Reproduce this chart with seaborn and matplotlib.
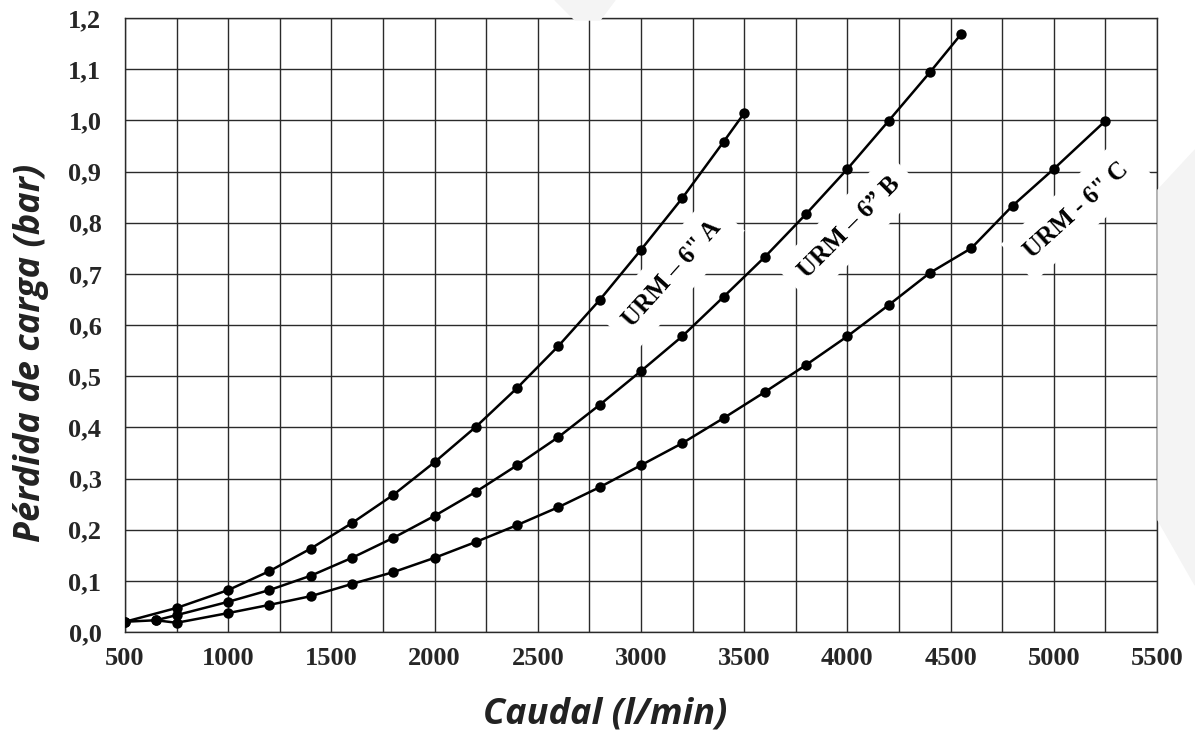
import numpy as np
import pandas as pd
import matplotlib
matplotlib.use("Agg")
import matplotlib.pyplot as plt
from matplotlib.patches import Polygon
import seaborn as sns

# caudal (l/min) and pérdida de carga (bar)
caudal_a = [500, 750, 1000, 1200, 1400, 1600, 1800, 2000, 2200, 2400, 2600, 2800, 3000, 3200, 3400, 3500]
perdida_a = [0.020, 0.047, 0.082, 0.119, 0.163, 0.213, 0.268, 0.332, 0.401, 0.477, 0.559, 0.649, 0.747, 0.848, 0.958, 1.014]

caudal_b = [500, 650, 750, 1000, 1200, 1400, 1600, 1800, 2000, 2200, 2400, 2600, 2800, 3000, 3200, 3400,
            3600, 3800, 4000, 4200, 4400, 4550]
perdida_b = [0.020, 0.023, 0.033, 0.059, 0.082, 0.110, 0.145, 0.184, 0.227, 0.274, 0.326, 0.381, 0.444, 0.510,
             0.578, 0.655, 0.733, 0.817, 0.905, 0.999, 1.094, 1.168]

caudal_c = [650, 750, 1000, 1200, 1400, 1600, 1800, 2000, 2200, 2400, 2600, 2800, 3000, 3200, 3400, 3600,
            3800, 4000, 4200, 4400, 4600, 4800, 5000, 5250]
perdida_c = [0.023, 0.018, 0.037, 0.053, 0.070, 0.094, 0.117, 0.145, 0.176, 0.209, 0.244, 0.283, 0.326, 0.369,
             0.418, 0.469, 0.522, 0.578, 0.639, 0.702, 0.750, 0.833, 0.905, 0.999]

series_names = ["A", "B", "C"]
labels = ["URM – 6\" A", "URM – 6\u201d B", "URM - 6\" C"]

x_ticks = [500, 1000, 1500, 2000, 2500, 3000, 3500, 4000, 4500, 5000, 5500]
y_ticks = [0.0, 0.1, 0.2, 0.3, 0.4, 0.5, 0.6, 0.7, 0.8, 0.9, 1.0, 1.1, 1.2]

df = pd.concat([
    pd.DataFrame({"caudal": caudal_a, "perdida": perdida_a, "serie": series_names[0]}),
    pd.DataFrame({"caudal": caudal_b, "perdida": perdida_b, "serie": series_names[1]}),
    pd.DataFrame({"caudal": caudal_c, "perdida": perdida_c, "serie": series_names[2]}),
], ignore_index=True)

sns.set_style("white")

fig = plt.figure(figsize=(11.95, 7.33), dpi=100)
# faint watermark shapes behind the chart
fig.patches.append(Polygon([[555 / 1195, 1], [615 / 1195, 1], [600 / 1195, 1 - 20 / 733], [575 / 1195, 1 - 20 / 733]],
                           closed=True, transform=fig.transFigure, color="#f4f4f4", zorder=0))
fig.patches.append(Polygon([[1158 / 1195, 1 - 190 / 733], [1, 1 - 150 / 733], [1, 1 - 585 / 733], [1158 / 1195, 1 - 520 / 733]],
                           closed=True, transform=fig.transFigure, color="#f4f4f4", zorder=0))

ax = fig.add_axes([125 / 1195, 101 / 733, 1032 / 1195, 614 / 733])
ax.set_facecolor("white")

sns.lineplot(data=df, x="caudal", y="perdida", hue="serie", units="serie", estimator=None, sort=False,
             palette=["black"] * 3, marker="o", markersize=7.5, markeredgewidth=0, linewidth=1.8,
             legend=False, ax=ax, zorder=3)

ax.set_xlim(500, 5500)
ax.set_ylim(0, 1.2)
ax.set_xticks(x_ticks)
ax.set_xticks(np.arange(750, 5500, 500), minor=True)
ax.set_yticks(y_ticks)
ax.set_xticklabels([str(v) for v in x_ticks])
ax.set_yticklabels([f"{v:.1f}".replace(".", ",") for v in y_ticks])
ax.grid(True, which="both", axis="x", color="#2a2a2a", linewidth=1.0)
ax.grid(True, which="major", axis="y", color="#2a2a2a", linewidth=1.0)
ax.set_axisbelow(True)
for s in ax.spines.values():
    s.set_color("#2a2a2a")
    s.set_linewidth(1.0)

tick_font = dict(family="Liberation Serif", weight="bold", size=19)
for t in ax.get_xticklabels() + ax.get_yticklabels():
    t.set_fontproperties(matplotlib.font_manager.FontProperties(**tick_font))
ax.tick_params(axis="both", which="major", direction="out", length=6, width=1, color="#2a2a2a", pad=5)
ax.tick_params(axis="y", pad=11)
ax.tick_params(axis="x", which="minor", length=0)

lab_font = dict(family="Open Sans", weight="bold", style="italic", size=26, color="#222222")
ax.set_xlabel("Caudal (l/min)", **lab_font)
ax.xaxis.set_label_coords(0.465, -0.105)
ax.set_ylabel("Pérdida de carga (bar)", **lab_font)
ax.yaxis.set_label_coords(-0.074, 0.455)

box = dict(boxstyle="square,pad=0.55", facecolor="white", edgecolor="none")
ann_font = dict(family="Liberation Serif", weight="bold", size=18, color="black", ha="center", va="center",
                bbox=box, zorder=4, rotation_mode="anchor")
ax.text(3150, 0.70, labels[0], rotation=48, **ann_font)
ax.text(4010, 0.79, labels[1], rotation=45, **ann_font)
ax.text(5110, 0.825, labels[2], rotation=42, **ann_font)

fig.savefig("out.png", dpi=100)
